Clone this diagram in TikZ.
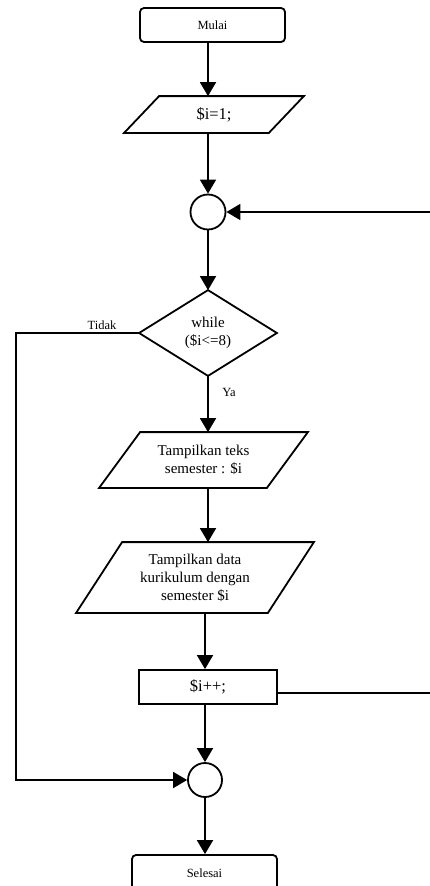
\documentclass[tikz,border=0pt]{standalone}
\usepackage{fontspec}
\setmainfont{Liberation Serif}
\usetikzlibrary{arrows.meta}

\begin{document}
\begin{tikzpicture}[x=1pt,y=-1pt,line width=1.8pt,
  arr/.style={-{Triangle[width=16pt,length=14pt]}},
  term/.style={draw,rounded corners=4pt,inner sep=0pt,font=\fontsize{12.5}{14}\selectfont},
  box/.style={inner sep=0pt,align=center,font=\fontsize{15}{18}\selectfont},
  proc/.style={draw,inner sep=0pt,font=\fontsize{16.5}{18}\selectfont},
  joint/.style={draw,circle,inner sep=0pt,minimum size=35pt},
  lbl/.style={inner sep=0pt,font=\fontsize{12.5}{14}\selectfont}]
\useasboundingbox (0,0) rectangle (430,886);

% terminals, steps and junctions
\node[term,minimum width=145pt,minimum height=34pt] (mulai) at (212.5,25) {Mulai};
\node[box,minimum width=178pt,minimum height=35pt,font=\fontsize{16.5}{18}\selectfont] (init) at (214,114.5) {\$i=1;};
\node[joint] (c1) at (208,212) {};
\node[box,minimum width=136pt,minimum height=84pt] (cond) at (208,333) {while\\(\$i<=8)};
\node[box,minimum width=207pt,minimum height=54pt] (teks) at (203.5,460) {Tampilkan teks\\semester : \$i};
\node[box,minimum width=236pt,minimum height=69pt] (data) at (195,577.5) {Tampilkan data\\kurikulum dengan\\semester \$i};
\node[proc,minimum width=138pt,minimum height=34pt] (inc) at (208,687) {\$i++;};
\node[joint,minimum size=34pt] (c2) at (205,780) {};
\node[term,minimum width=145pt,minimum height=36pt] (selesai) at (204.5,873) {Selesai};

% outlines of the input/output steps and the decision
\draw ([xshift=35pt]init.north west) -- (init.north east)
  -- ([xshift=-35pt]init.south east) -- (init.south west) -- cycle;
\draw ([xshift=41pt]teks.north west) -- (teks.north east)
  -- ([xshift=-41pt]teks.south east) -- (teks.south west) -- cycle;
\draw ([xshift=46pt]data.north west) -- (data.north east)
  -- ([xshift=-46pt]data.south east) -- (data.south west) -- cycle;
\draw (cond.north) -- (cond.east) -- (cond.south) -- (cond.west) -- cycle;

% main flow
\draw[arr] (mulai.south -| c1) -- (init.north -| c1);
\draw[arr] (init.south -| c1) -- (c1.north);
\draw[arr] (c1.south) -- (cond.north);
\draw[arr] (cond.south) -- (teks.north -| cond);
\draw[arr] (teks.south -| cond) -- (data.north -| cond);
\draw[arr] (data.south -| c2) -- (inc.north -| c2);
\draw[arr] (inc.south -| c2) -- (c2.north);
\draw[arr] (c2.south) -- (selesai.north -| c2);
\node[lbl] (ya) at (229,392) {Ya};

% loop back to the first junction
\coordinate (back) at (445,500);
\draw[arr] ([yshift=-6pt]inc.east) -| (back) |- (c1.east);

% exit of the loop
\coordinate (exit) at (16,550);
\draw[arr] (cond.west) -| (exit) |- (c2.west);
\node[lbl] (tidak) at (102,325) {Tidak};
\end{tikzpicture}
\end{document}
